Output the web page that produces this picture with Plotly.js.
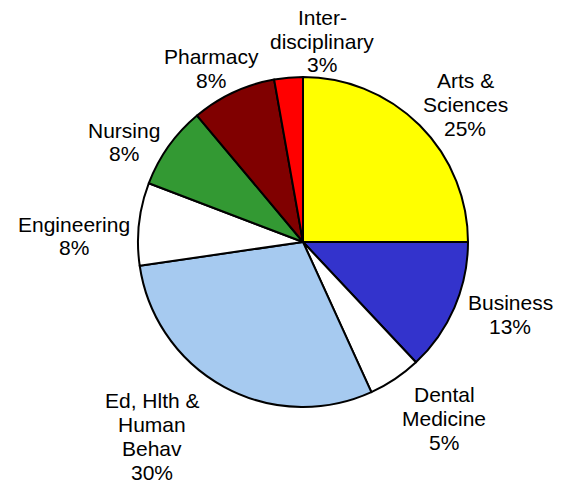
<!DOCTYPE html>
<html>
<head>
<meta charset="utf-8">
<script src="https://cdn.plot.ly/plotly-3.0.1.min.js"></script>
<style>html,body{margin:0;padding:0;background:#fff;}#chart{width:563px;height:484px;}</style>
</head>
<body>
<div id="chart"></div>
<script>
// Data (clockwise from 12 o'clock)
var labels = ["Arts &<br>Sciences", "Business", "Dental<br>Medicine", "Ed, Hlth &<br>Human<br>Behav", "Engineering", "Nursing", "Pharmacy", "Inter-<br>disciplinary"];
var values = [25.0, 13.0, 5.2, 29.5, 8.1, 8.1, 8.3, 2.8];
var percentText = ["25%", "13%", "5%", "30%", "8%", "8%", "8%", "3%"];
var colors = ["#ffff00", "#3333cc", "#ffffff", "#a6caf0", "#ffffff", "#339933", "#800000", "#ff0000"];

// Label placement in pixels (layout only): centre x, first line middle y
var labelPos = [[465, 80.5], [510, 302.5], [444, 394], [152, 400.5], [74, 224], [124, 130], [211, 56], [322, 17]];
var lineGap = 24;

var W = 563, H = 484;
var cx = 303, cy = 242, r = 165;

var annotations = [];
labels.forEach(function (l, i) {
  var lines = (l + "<br>" + percentText[i]).split("<br>");
  lines.forEach(function (t, k) {
    annotations.push({
      text: t,
      x: labelPos[i][0] / W, y: 1 - (labelPos[i][1] + k * lineGap) / H,
      xref: "paper", yref: "paper",
      xanchor: "center", yanchor: "middle", align: "center",
      showarrow: false,
      font: {family: "Liberation Sans, Arial, sans-serif", size: 21, color: "#000"}
    });
  });
});

var trace = {
  type: "pie",
  labels: labels,
  values: values,
  sort: false,
  direction: "clockwise",
  rotation: 0,
  textinfo: "none",
  hoverinfo: "skip",
  marker: {colors: colors, line: {color: "#000", width: 2}},
  domain: {x: [(cx - r) / W, (cx + r) / W], y: [(H - cy - r) / H, (H - cy + r) / H]}
};

var layout = {
  width: W, height: H,
  margin: {l: 0, r: 0, t: 0, b: 0},
  showlegend: false,
  paper_bgcolor: "#fff",
  annotations: annotations
};

Plotly.newPlot("chart", [trace], layout, {displayModeBar: false, staticPlot: true});
</script>
</body>
</html>
